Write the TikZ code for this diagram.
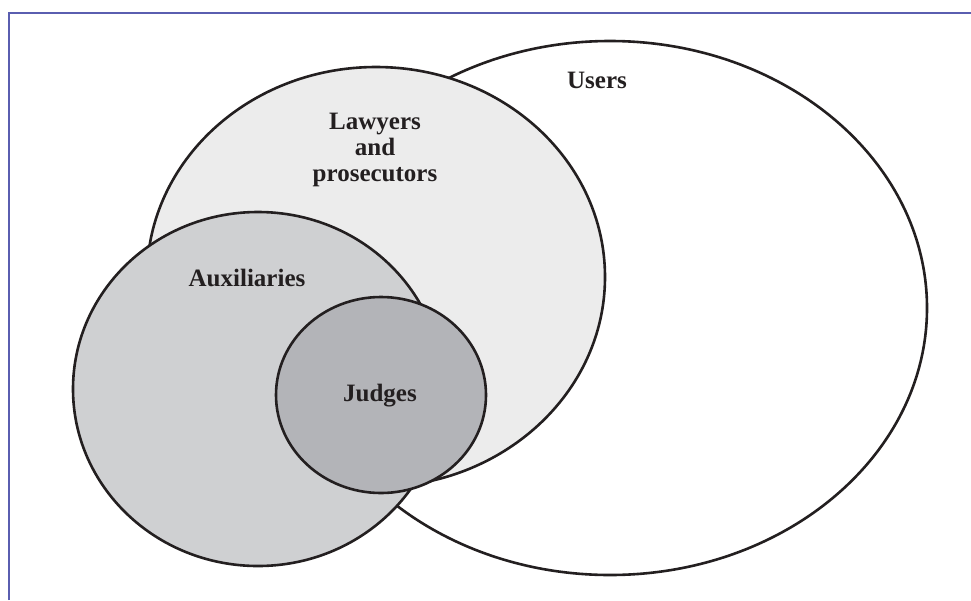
\documentclass[tikz,border=0pt]{standalone}
\usepackage{fontspec}
\setmainfont{Liberation Serif}
\usetikzlibrary{shapes.geometric}
\definecolor{frameblue}{RGB}{90,94,176}
\definecolor{lawfill}{RGB}{236,236,236}
\definecolor{auxfill}{RGB}{207,208,210}
\definecolor{judfill}{RGB}{179,180,184}
\definecolor{inkc}{RGB}{35,31,32}
\tikzset{
  setbox/.style={ellipse, draw=inkc, line width=2.6pt, inner sep=0pt, outer sep=0pt},
  setlabel/.style={font=\fontsize{25}{26}\selectfont\bfseries, text=inkc, align=center, inner sep=0pt},
  framestyle/.style={draw=frameblue, line width=2pt}
}
\begin{document}
\begin{tikzpicture}[x=1pt,y=-1pt]
\useasboundingbox (0,0) rectangle (971,600);
\coordinate (ftl) at (8.5,13);
\coordinate (ftr) at (971,13);
\coordinate (fbl) at (8.5,600);
\draw[framestyle] (fbl) -- (ftl) -- (ftr);
\node[setbox, fill=white, minimum width=634pt, minimum height=534pt] (users) at (610,308) {};
\node[setbox, fill=lawfill, minimum width=458pt, minimum height=420pt] (lawyers) at (376,277) {};
\node[setbox, fill=auxfill, minimum width=370pt, minimum height=354pt] (aux) at (258,389) {};
\node[setbox, fill=judfill, minimum width=210pt, minimum height=196pt] (judges) at (381,395) {};
\node[setlabel] (usersl) at (597,80) {Users};
\node[setlabel] (lawyersl) at (375,150) {Lawyers\\and\\prosecutors};
\node[setlabel] (auxl) at (247,278) {Auxiliaries};
\node[setlabel] (judgesl) at (380,396) {Judges};
\end{tikzpicture}
\end{document}
